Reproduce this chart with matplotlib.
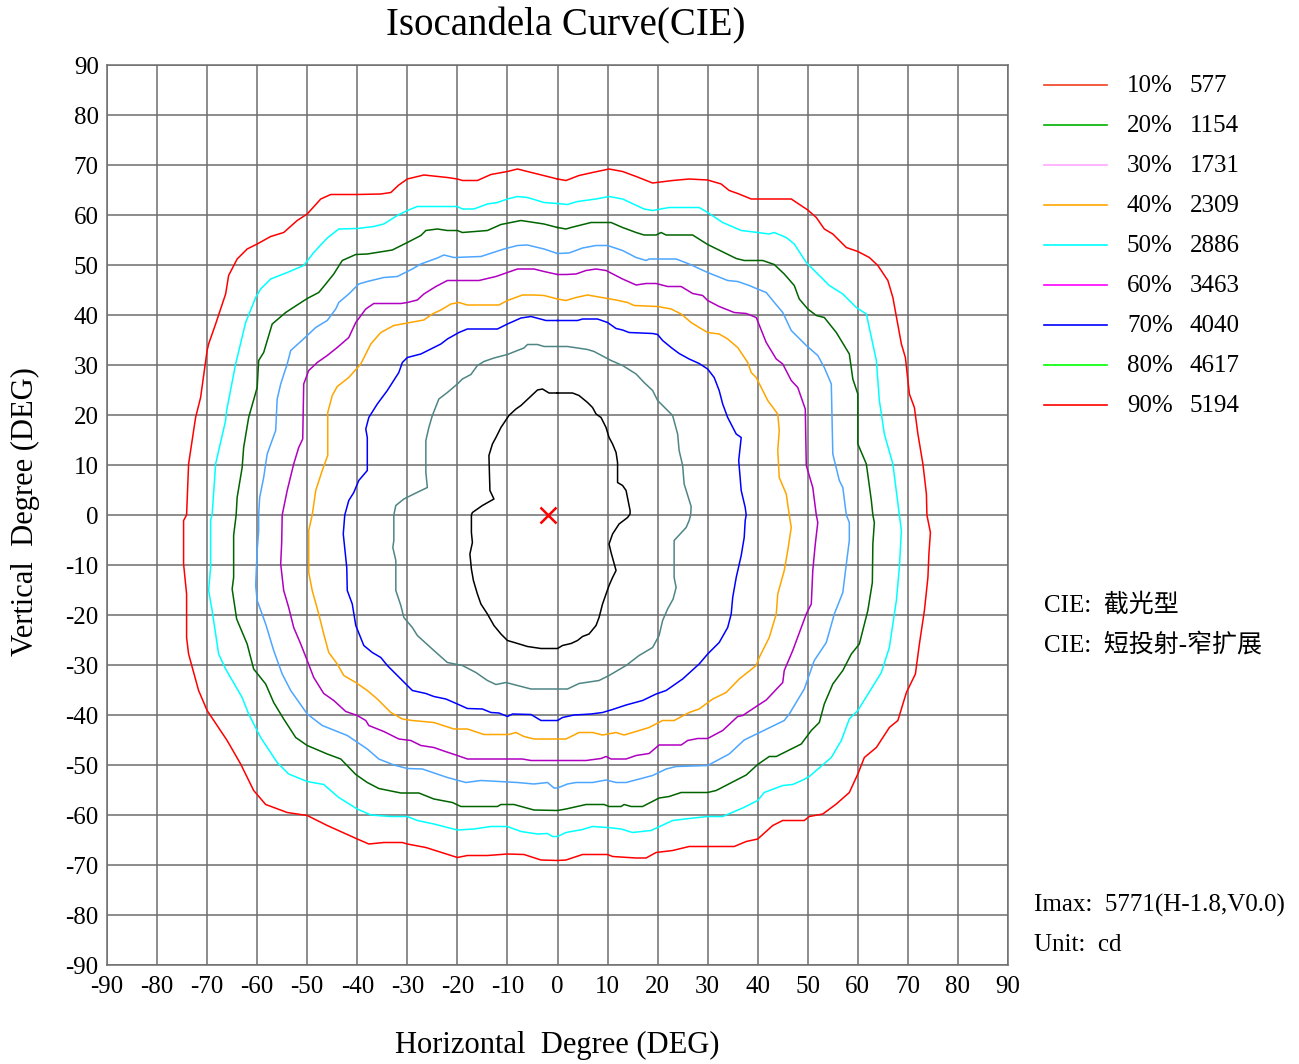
import numpy as np
import matplotlib
matplotlib.use("Agg")
import matplotlib.pyplot as plt

plt.rcParams['font.family'] = ['Liberation Serif', 'Noto Sans CJK SC', 'DejaVu Sans']
plt.rcParams['axes.unicode_minus'] = False

# isocandela curves, (H, V) in degrees, outer -> inner
curve_red = [(0, 67.2), (-8, 69.2), (-10, 68.7), (-13.3, 68.1), (-16, 66.9), (-19, 66.9), (-20, 67.2),
             (-22, 67.5), (-26.7, 68), (-30, 67.2), (-31.7, 66), (-33.3, 64.5), (-35.3, 64.2), (-40, 64.1),
             (-45.3, 64.1), (-47.3, 63.2), (-50, 60.2), (-52, 58.9), (-54.7, 56.5), (-57.3, 55.7), (-60, 54.2),
             (-62, 53.2), (-64, 51.2), (-65.7, 47.9), (-66.3, 44.2), (-68.3, 38.2), (-69.7, 34.2), (-70, 32.9),
             (-71.3, 23.5), (-72.3, 19.5), (-73.7, 10.2), (-74.1, 0), (-74.7, -1.1), (-74.7, -9.8), (-74.1, -15.8),
             (-74.1, -24.5), (-73.7, -27.8), (-71.7, -35.1), (-70, -39.1), (-66, -45.1), (-63.3, -49.8),
             (-60.7, -55.1), (-58.3, -57.9), (-54, -59.5), (-50, -60.1), (-46, -62.1), (-40, -64.8), (-37.7, -65.8),
             (-34.7, -65.5), (-31, -65.5), (-30, -65.8), (-26.3, -66.5), (-20, -68.5), (-18, -68.1), (-14, -68.1),
             (-10, -67.8), (-6.7, -67.9), (-3.3, -69), (0, -69.1), (1.7, -69), (5, -67.9), (10, -67.9), (11, -68.3),
             (15.7, -68.6), (17.7, -68.6), (19.7, -67.5), (23, -67.1), (26.3, -66.3), (30, -66.3), (35.3, -66.3),
             (37.7, -65.3), (40, -64.8), (43, -62.1), (45, -61.1), (49.3, -61.1), (50.3, -60.3), (53, -59.8),
             (55.7, -57.8), (58.3, -55.5), (60, -51.8), (61.3, -48.5), (63.7, -46.5), (66.3, -42.5), (68, -41.1),
             (69.7, -35.5), (71.5, -31.8), (72.3, -25.8), (73.3, -19.1), (74, -12.5), (74.2, -7.8), (74.5, -3.5),
             (73.8, 0), (73.7, 4.2), (73, 10.2), (72, 16.2), (71.3, 21.5), (70.3, 24.2), (69.5, 31.5), (68.7, 34.2),
             (67, 43.5), (66, 46.9), (64, 49.9), (62.3, 51.5), (60, 52.7), (57.7, 53.5), (55, 56.2), (53.3, 57.2),
             (51.7, 59.5), (50, 61), (46.7, 63.2), (38.7, 63.2), (36, 64.3), (34.3, 64.9), (32.7, 66.2), (30, 67),
             (26.3, 67.2), (23, 66.9), (19, 66.4), (15.7, 67.7), (13, 68.7), (10.3, 69.2), (7, 68.5), (4.3, 67.9),
             (1.7, 66.9), (0, 67.2)]

curve_cyan = [(0, 62.3), (-2.7, 62.5), (-6, 63.5), (-8, 63.7), (-10, 63.2), (-12, 62.5), (-14, 62.2), (-16.7, 61.2),
              (-19, 61.2), (-20, 61.7), (-28, 61.7), (-30, 60.9), (-32, 59.9), (-34.7, 58.2), (-36.7, 57.7),
              (-40, 57.3), (-43.7, 57.2), (-46, 55.4), (-48.7, 52.5), (-50.7, 49.9), (-54, 48.5), (-57.3, 47.2),
              (-59.3, 45.2), (-60.3, 43.5), (-62.3, 38.5), (-64.3, 30.2), (-66.1, 20.9), (-66.3, 18.9),
              (-68.3, 10.2), (-69, 0), (-69.3, -1), (-69.3, -10.5), (-69.7, -15.1), (-69, -19.1), (-67.7, -27.8),
              (-66.3, -30.8), (-63, -36.5), (-61.7, -39.8), (-59.3, -44.5), (-56, -49.5), (-53.7, -51.8),
              (-50, -53.3), (-46.7, -53.9), (-43.7, -56.5), (-40, -58.8), (-37.3, -60), (-33.3, -60.3), (-30, -60.3),
              (-28, -61.1), (-24.7, -61.8), (-20, -63), (-16.7, -62.8), (-13.3, -62.3), (-10, -62.3), (-7.3, -63.3),
              (-4, -63.8), (-2, -63.7), (-1, -64.3), (0, -64.3), (1.7, -63.5), (5, -62.9), (7, -62.3), (10, -62.5),
              (12.7, -62.8), (15, -63.5), (18.7, -63.1), (23, -61.1), (26.3, -60.7), (30, -60.3), (33, -60.3),
              (37, -58.6), (40, -57.1), (41.3, -55.5), (45, -54.1), (47, -53.9), (49, -53), (50.3, -52.3),
              (54.7, -48.5), (56.7, -45.1), (58.3, -40.8), (60, -39.1), (64.7, -31.5), (66.3, -26.5), (67.7, -17.1),
              (68.3, -10.5), (68.7, -3.1), (68.3, 0), (67, 10.2), (65.3, 16.2), (64.3, 22.9), (63.7, 30.9),
              (61.7, 40.2), (59.7, 41.5), (57, 44.2), (54.3, 45.9), (52.3, 47.9), (49.7, 50.5), (47.3, 54.2),
              (45.7, 55.5), (43.3, 56.5), (42.3, 56.2), (40, 56.5), (36.7, 56.9), (33, 58.5), (30, 60.5), (28.3, 61.5),
              (22.3, 61.5), (19, 60.9), (17.3, 61.2), (13, 63.2), (10.3, 63.7), (7.7, 63.2), (4, 62.7), (2, 62.1),
              (0, 62.3)]

curve_green = [(0, 57.5), (-2.7, 58.2), (-7.3, 58.9), (-11.3, 58.1), (-14, 56.9), (-19, 56.5), (-20, 56.9),
               (-22, 56.9), (-24, 57.2), (-26.3, 56.9), (-27.3, 55.9), (-30, 54.5), (-33, 53), (-38, 52.2),
               (-40.3, 52.1), (-43, 50.9), (-44.7, 48.2), (-46.3, 46.2), (-47.7, 44.5), (-50, 43.3), (-51.7, 42.2),
               (-54.3, 40.5), (-57, 38.2), (-58.7, 32.5), (-59.7, 30.9), (-60, 25.5), (-61.7, 19.5), (-62.7, 13.5),
               (-63, 9.5), (-64, 3.5), (-64.2, 0), (-64.7, -4.1), (-64.7, -12.5), (-65, -14.8), (-64.1, -20.8),
               (-62, -25.8), (-60.7, -30.8), (-58.3, -33.8), (-56.7, -37.5), (-54.7, -40.8), (-52.3, -44.5),
               (-50, -46.1), (-46, -47.8), (-43.3, -48.8), (-40.3, -51.9), (-38, -53.5), (-35.7, -54.7),
               (-31.3, -55.6), (-27.7, -55.6), (-24.7, -56.8), (-21, -57.5), (-19.3, -58.3), (-12, -58.3),
               (-11.3, -57.9), (-8.7, -57.9), (-4.7, -59), (0, -59.1), (1.7, -58.8), (5.7, -57.9), (9.3, -57.9),
               (10.3, -58.3), (12.7, -58.3), (13.3, -57.9), (14.7, -58.3), (17, -58.3), (20.3, -56.6), (22.3, -56.3),
               (24.7, -55.5), (30, -55.5), (31.7, -55.1), (37.7, -52), (40, -49.9), (42.3, -48.3), (43.7, -48.3),
               (48.7, -45.8), (50.7, -43.1), (52.3, -41.5), (53.3, -37.8), (55, -33.8), (57, -31.1), (58.7, -27.8),
               (60.3, -25.8), (62, -19.1), (62.9, -13.5), (63, -5.8), (63.3, -1.5), (63, 0), (62.7, 2.9),
               (61.7, 10.2), (60, 14.2), (60, 24.2), (59, 27.2), (58.3, 32.2), (55.7, 36.5), (53.3, 39.5),
               (51.7, 39.9), (50, 41.2), (48.3, 43.2), (47.3, 45.9), (45.3, 48.2), (43.3, 50.1), (41, 50.9),
               (37.3, 50.9), (35.7, 51.3), (30, 54.1), (27, 56), (21.7, 56), (20.7, 56.5), (19.7, 56), (17.3, 56),
               (15.7, 56.5), (13, 57.5), (10.7, 58.5), (6.7, 58.5), (2.7, 57.5), (1.7, 57.2), (0, 57.5)]

curve_skyblue = [(0, 52.3), (-2.7, 53.2), (-6, 54), (-8, 53.9), (-10.7, 53.2), (-15.3, 51.7), (-20.7, 51.5),
                 (-22.7, 52), (-24, 51.4), (-27.3, 50.2), (-29, 49.2), (-32, 47.7), (-34.7, 47.5), (-38, 46.7),
                 (-39.7, 46.2), (-41.7, 44.2), (-43.7, 42.5), (-44.3, 41.2), (-46, 38.9), (-48.3, 37.5), (-50, 35.9),
                 (-51.3, 34.7), (-53.3, 32.9), (-54, 30.2), (-55.3, 26.2), (-56, 23.2), (-56.3, 16.9), (-58, 12.2),
                 (-58.7, 7.5), (-59.5, 3.5), (-59.7, 0), (-59.7, -3.1), (-60, -7.1), (-60.3, -14.1), (-60, -17.1),
                 (-58.3, -21.8), (-56.7, -27.1), (-55, -31.8), (-53.3, -35.1), (-50, -39.8), (-47, -42.1),
                 (-42, -44.1), (-38, -46.8), (-35.7, -48.8), (-32.7, -50), (-30, -50.7), (-27, -50.8), (-22, -52.5),
                 (-18.3, -53.5), (-15.3, -53.1), (-8, -53.5), (-4.7, -53.8), (-2, -53.5), (-0.7, -54.6), (0, -54.6),
                 (2, -53.8), (3.7, -53.5), (7, -53.5), (9.7, -53), (11.7, -53.5), (13.7, -53.5), (19, -52.1),
                 (21.7, -50.8), (23.7, -50.3), (30, -50.1), (34.3, -47.8), (37.3, -45), (45.3, -41.1), (46.3, -39.8),
                 (49.3, -34.8), (51.3, -29.1), (53.7, -25.5), (55.3, -19.8), (57, -15.5), (57.7, -9.8), (58.3, -5.1),
                 (58.3, -1.5), (57.7, 0), (57, 5.5), (56.3, 6.9), (55, 12.2), (54.7, 26.2), (53.3, 29.5), (52, 31.9),
                 (49.7, 33.9), (48.7, 34.9), (46.7, 36.9), (45, 40.5), (43, 42.9), (41.7, 44.5), (39.7, 45.3),
                 (38.3, 45.9), (36, 46.7), (34, 46.9), (30, 48.5), (26.3, 50.2), (23.7, 51.2), (18.3, 51.2),
                 (17.7, 50.9), (15.7, 51.5), (13, 52.9), (10, 53.9), (7.7, 53.9), (5, 53.4), (2.3, 52.4), (0, 52.3)]

curve_purple = [(0, 48.1), (-2.7, 48.7), (-4.7, 49.2), (-8, 49.2), (-10, 48.5), (-12.3, 47.7), (-15.7, 46.9),
                (-22, 46.9), (-24.3, 45.7), (-26.7, 44.2), (-28, 43), (-30, 42.5), (-31.3, 42.3), (-36.7, 42.3),
                (-38.3, 41.2), (-40.3, 38.5), (-41.7, 35.5), (-44, 33.5), (-46, 31.9), (-48, 30.5), (-49.7, 28.9),
                (-50.7, 26.2), (-50.9, 15.2), (-51.7, 13.5), (-52.7, 10.2), (-54, 4.9), (-55, 0), (-55.1, -5.5),
                (-55.3, -9.8), (-54.7, -15.1), (-53.7, -18.5), (-52.7, -22.5), (-51.3, -25.8), (-50, -29.1),
                (-48.7, -32.5), (-46.7, -35.7), (-44.7, -37.1), (-42.3, -39.3), (-40, -40.1), (-38.3, -41.1),
                (-37.7, -42.1), (-34.7, -43.3), (-31.7, -44.8), (-29.3, -45.1), (-27.3, -46.1), (-24.7, -46.5),
                (-23, -47.1), (-20, -48.1), (-18, -48.8), (-7, -48.8), (-5.3, -49.1), (0, -49.1), (5.7, -49.1),
                (8.7, -48.7), (9.7, -48.3), (10.7, -48.8), (13.7, -48.8), (15.7, -48.1), (18.3, -47.7), (20.3, -46),
                (24.7, -46), (26, -45.1), (28, -44.7), (30, -44.7), (33, -43.1), (36, -40.3), (37, -40.1), (40, -38.1),
                (41.7, -37), (45, -33.5), (45.3, -31.1), (47, -27.1), (49.7, -19.8), (50.7, -17.8), (51, -11.1),
                (51.5, -5.8), (52, -1.5), (51.7, 0), (51, 5.5), (49.7, 9.9), (49.5, 21.2), (48, 25.5), (46.7, 26.9),
                (45, 30.2), (43.7, 31.2), (41.7, 34.5), (39.7, 39.5), (37.7, 40.3), (35.3, 40.5), (32.3, 41.7),
                (30, 42.9), (29, 43.9), (27, 44.3), (24.7, 45.7), (22, 45.7), (19.7, 46.3), (17.7, 46.3), (15.7, 46),
                (13, 47.2), (9.7, 48.9), (7.7, 49.2), (5.7, 48.9), (3.7, 48.2), (1.7, 48.1), (0, 48.1)]

curve_orange = [(0, 43.2), (-2.7, 43.9), (-4.7, 44), (-7, 44), (-10, 42.9), (-11.7, 42), (-18, 42), (-19.7, 42.5),
                (-21.3, 42.2), (-23.3, 41), (-25, 40.2), (-26.7, 39), (-30, 38.4), (-32.7, 37.9), (-35.3, 36.5),
                (-37.3, 34.2), (-39.3, 30.2), (-41.7, 27.5), (-44, 25.7), (-45, 23.9), (-45.9, 20.5), (-45.9, 11.9),
                (-47, 8.9), (-48.3, 4.9), (-49, 0), (-49.7, -3.1), (-49.7, -11.5), (-49, -15.1), (-47.7, -19.8),
                (-46.7, -23.8), (-45.7, -27.5), (-44, -29.8), (-42.7, -32.1), (-40.3, -33.5), (-38, -35.1),
                (-36, -36.8), (-33.3, -39.5), (-31, -40.8), (-29, -41.1), (-24.7, -41.5), (-20.7, -42.8),
                (-18, -42.8), (-14.7, -43.9), (-9.7, -43.9), (-8.3, -43.5), (-6.7, -44.3), (-4.7, -44.8), (0, -44.8),
                (1.7, -44.8), (4.3, -43.5), (7, -43.5), (9, -44), (11.7, -43.5), (13.3, -44), (15, -43.5),
                (18.3, -42.5), (21, -41.1), (23.3, -41.1), (26.3, -39.5), (28.3, -38.8), (31, -36.8), (33.7, -35.5),
                (36.3, -32.8), (39.7, -30.1), (40.3, -28.5), (42.3, -24.5), (43.7, -19.8), (44, -15.8), (45.3, -11.1),
                (46, -7.1), (46.7, -2.5), (46.3, 0), (45.7, 4.2), (44.3, 7.5), (44, 12.9), (44.3, 16.9), (44, 20.2),
                (42, 22.9), (39.7, 27.5), (38.7, 28.5), (38, 30.5), (36, 33.5), (34, 35.2), (32.3, 36.2), (30, 36.5),
                (28.3, 37.5), (26.7, 38.5), (24.7, 40.2), (22.7, 41.2), (20, 41.7), (15.3, 41.9), (14, 42.5),
                (11.7, 43), (7.7, 43.7), (6, 44), (3.7, 43.5), (1.7, 42.9), (0, 43.2)]

curve_blue = [(0, 38.9), (-2.3, 38.9), (-5.3, 39.7), (-7.3, 39.4), (-10, 38.2), (-12, 37.2), (-18, 37.2),
              (-19.7, 36.5), (-22, 35.2), (-23.3, 34.2), (-25.3, 33.2), (-27.3, 32.2), (-30, 31.5), (-31, 30.5),
              (-31.7, 28.5), (-34, 24.9), (-36, 22.2), (-37.7, 19.5), (-38.3, 17.2), (-38, 15.5), (-38, 8.9),
              (-39.7, 6.9), (-40.7, 4.5), (-41.7, 2.9), (-42.5, 0), (-42.8, -3.8), (-42.1, -10.5), (-42, -15.1),
              (-41, -17.8), (-40.3, -22.1), (-38.7, -26.1), (-37, -27.5), (-35.3, -28.5), (-34, -30.1), (-32, -32.1),
              (-29, -35.1), (-26.3, -35.7), (-24.7, -36.3), (-22.3, -36.8), (-20, -37.8), (-18, -38.7), (-15, -38.8),
              (-13.3, -39.5), (-11.7, -39.6), (-10, -40.3), (-9, -39.8), (-5.3, -39.9), (-3.3, -41.1), (0, -41.1),
              (1, -40.5), (3.3, -40), (6.7, -39.8), (9, -39.5), (11, -38.9), (13.7, -38), (17, -37.1), (19.7, -35.8),
              (21.7, -35.1), (25, -32.8), (28.3, -29.8), (30, -27.8), (32.3, -25.5), (34, -22.5), (34.7, -19.8),
              (35, -16.5), (35.7, -12.5), (36.7, -8.1), (37.3, -4.5), (37.5, -1.1), (37.7, 0), (37.5, 1.5),
              (36.7, 4.9), (36.2, 10.9), (36.7, 15.5), (35.7, 16.2), (34, 19.5), (33, 22.2), (32.3, 24.9),
              (31.3, 27.5), (30, 29.2), (28.3, 30.3), (26.3, 31.2), (24.3, 32.3), (22.7, 33.5), (21, 34.9),
              (20, 36.1), (19, 36.3), (14.3, 36.5), (13, 37), (11.7, 37.3), (10, 38.5), (8, 39.2), (5, 39.2),
              (4, 38.9), (0, 38.9)]

curve_teal = [(0, 33.7), (-2.7, 33.7), (-4, 34.1), (-6, 34.1), (-6.7, 33.4), (-8, 32.9), (-10, 32.1), (-12.7, 31.4),
              (-14.7, 30.7), (-16, 29.9), (-17.3, 28.1), (-19, 27.2), (-20, 26.2), (-22, 24.5), (-23.7, 23.2),
              (-25, 19.9), (-25.7, 17.5), (-26.3, 14.9), (-26.3, 8.5), (-26, 5.5), (-28.7, 4.2), (-30.7, 3.2),
              (-32.3, 1.9), (-32.7, 0), (-32.7, -5.1), (-32.9, -6.5), (-32.3, -9.1), (-32.3, -15.1), (-31.3, -18.1),
              (-30.7, -20.5), (-29, -22.5), (-28, -24.1), (-24.7, -27.1), (-22, -29.5), (-19, -30.1), (-16.3, -31.5),
              (-14, -33.1), (-12.3, -33.9), (-10.3, -33.5), (-8, -34.1), (-5.3, -34.8), (0, -34.8), (2, -34.8),
              (4.3, -33.7), (8.3, -33.1), (10.3, -32.1), (13.7, -30.1), (16.3, -28.1), (19, -26.5), (20.3, -24.1),
              (21, -21.1), (22, -18.8), (23.1, -16.8), (23.7, -14.5), (23.3, -12.5), (23.3, -5.1), (25.7, -2.5),
              (26.3, -1.1), (26.6, 0), (26.7, 1.7), (25.3, 6.2), (25, 9.9), (24.3, 12.9), (24, 16.2), (23, 19.9),
              (20, 22.9), (19, 24.9), (17.3, 26.5), (15.7, 28.2), (13, 29.9), (10.7, 30.9), (7.3, 32.7), (6, 33.1),
              (2, 33.7), (0, 33.7)]

curve_black = [(0, 24.4), (-1.7, 24.4), (-3, 25.2), (-4, 25), (-5.7, 23.4), (-7.3, 21.9), (-8.3, 21.2), (-9.7, 19.9),
               (-11.3, 17.5), (-12.3, 15.5), (-13, 14.2), (-13.7, 11.9), (-13.5, 4.9), (-12.7, 3.2), (-15, 1.9),
               (-17, 0.5), (-17.2, 0), (-17.2, -3.5), (-17, -5.5), (-17.5, -7.8), (-17.2, -10.8), (-16.8, -13.1),
               (-16, -15.8), (-15.3, -17.8), (-14, -19.8), (-12.7, -22.1), (-11.3, -23.8), (-10, -25.1),
               (-8.3, -25.6), (-6, -26.3), (-3.3, -26.7), (0, -26.7), (1, -26.1), (2.7, -25.7), (4, -25.1),
               (5, -24.3), (6.3, -23.8), (7.7, -22.1), (8.3, -20.5), (9, -17.8), (9.7, -15.8), (10.3, -14.1),
               (11, -12.5), (11.7, -11.1), (10.7, -7.5), (10.3, -5.8), (11, -3.8), (12.3, -1.8), (14, -0.5),
               (14.5, 0.2), (14.5, 0.9), (13.7, 4.9), (13, 5.9), (12, 6.5), (12, 10.5), (11.7, 12.5), (11, 14.2),
               (10.3, 15.5), (9.7, 17.5), (8.7, 19.5), (7.7, 20.2), (7, 21.5), (6, 22.5), (4.3, 23.9), (3, 24.4),
               (0, 24.4)]

curves = [curve_red, curve_cyan, curve_green, curve_skyblue, curve_purple,
          curve_orange, curve_blue, curve_teal, curve_black]
curve_colors = ['#ff0000', '#00ffff', '#006400', '#4da6ff', '#b000c0',
                '#ffa500', '#0000ff', '#4f8585', '#000000']

imax_h, imax_v = -1.8, 0.0

legend_pct = ['10%', '20%', '30%', '40%', '50%', '60%', '70%', '80%', '90%']
legend_cd = ['577', '1154', '1731', '2309', '2886', '3463', '4040', '4617', '5194']
legend_colors = ['#f04020', '#00b000', '#ffa8ff', '#ffa500', '#00ffff',
                 '#ff00ff', '#0000ff', '#00ff00', '#ff0000']

ticks = list(range(-90, 91, 10))

W, H = 1299, 1064
fig = plt.figure(figsize=(W / 100, H / 100), dpi=100)
ax = fig.add_axes([107 / W, 1 - 965 / H, 901 / W, 900 / H])

for pts, col in zip(curves, curve_colors):
    arr = np.array(pts)
    ax.plot(arr[:, 0], arr[:, 1], color=col, lw=1.1, zorder=3)

ax.plot([imax_h], [imax_v], marker='x', color='red', ms=12, mew=1.8, zorder=4)

ax.set_xlim(-90, 90)
ax.set_ylim(-90, 90)
ax.set_xticks(ticks)
ax.set_yticks(ticks)
ax.set_xticklabels([str(t) for t in ticks])
ax.set_yticklabels([str(t) for t in ticks])
ax.tick_params(length=0, labelsize=18, pad=8)
ax.tick_params(axis='y', pad=6)
ax.grid(True, color='#6e6e6e', lw=1.1)
ax.set_axisbelow(True)
for s in ax.spines.values():
    s.set_color('#6e6e6e')
    s.set_linewidth(1.1)

# side panel in pixel coordinates
side = fig.add_axes([0, 0, 1, 1], facecolor='none')
side.set_xlim(0, W)
side.set_ylim(H, 0)
side.axis('off')

side.text(566, 26, 'Isocandela Curve(CIE)', fontsize=28, ha='center', va='center')
side.text(557, 1045, 'Horizontal  Degree (DEG)', fontsize=22, ha='center', va='center')
side.text(25, 512, 'Vertical  Degree (DEG)', fontsize=22, ha='center', va='center', rotation=90)

for i, (p, c, col) in enumerate(zip(legend_pct, legend_cd, legend_colors)):
    y = 85 + 40 * i
    side.plot([1044, 1107], [y, y], color=col, lw=1.2)
    side.text(1127, y + 1, p, fontsize=18, va='center')
    side.text(1190, y + 1, c, fontsize=18, va='center')

side.text(1044, 605, 'CIE:  截光型', fontsize=18, va='center')
side.text(1044, 645, 'CIE:  短投射-窄扩展', fontsize=18, va='center')
side.text(1034, 905, 'Imax:  5771(H-1.8,V0.0)', fontsize=18, va='center')
side.text(1034, 945, 'Unit:  cd', fontsize=18, va='center')

fig.savefig('out.png', dpi=100)
